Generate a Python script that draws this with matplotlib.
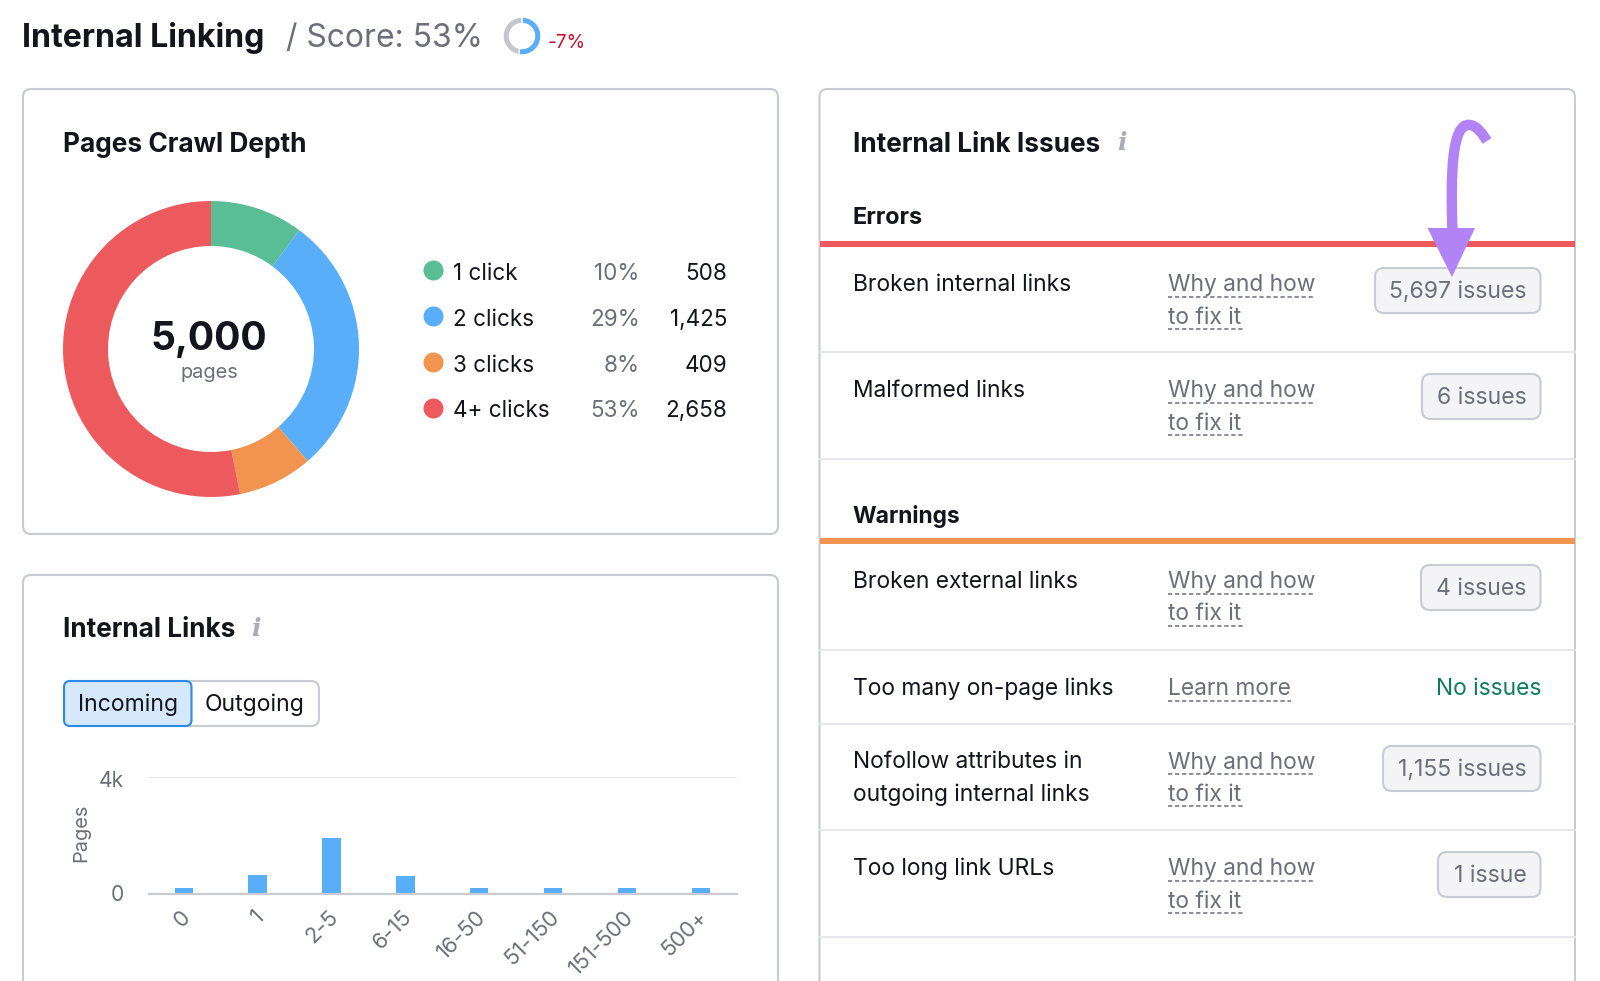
import matplotlib
matplotlib.use("Agg")
import matplotlib.pyplot as plt
from matplotlib.patches import FancyBboxPatch, PathPatch, Polygon, Rectangle
from matplotlib.path import Path
from matplotlib.transforms import ScaledTranslation

plt.rcParams['font.family'] = ['Inter', 'DejaVu Sans']

# chart data
depthLabels = ["1 click", "2 clicks", "3 clicks", "4+ clicks"]
depthPercents = ["10%", "29%", "8%", "53%"]
depthPages = [508, 1425, 409, 2658]
depthTotal = "5,000"
score = 53
scoreChange = "-7%"

linkBuckets = ["0", "1", "2-5", "6-15", "16-50", "51-150", "151-500", "500+"]
linkPages = [190, 640, 1900, 600, 190, 190, 190, 190]

errorNames = ["Broken internal links", "Malformed links"]
errorBadges = ["5,697 issues", "6 issues"]
warningNames = ["Broken external links", "Too many on-page links",
                "Nofollow attributes in\noutgoing internal links", "Too long link URLs"]
warningBadges = ["4 issues", None, "1,155 issues", "1 issue"]

W, H = 1600, 981
INK = "#14151c"
GRAY = "#6c6e79"
BORDER = "#c9cbd3"
LINE = "#e6e7ed"
GREEN = "#59bd96"
BLUE = "#59aef9"
ORANGE = "#f09450"
RED = "#ed5a5e"
PURPLE = "#b283f5"
depthColors = [GREEN, BLUE, ORANGE, RED]


def px(size):
    return size * 0.72


def sub_axes(x0, y0, x1, y1):
    return fig.add_axes([x0 / W, 1 - y1 / H, (x1 - x0) / W, (y1 - y0) / H])


def label(x, y, s, size=22.8, color=INK, ha="left", weight="normal", **kw):
    ui.text(x, y + 2.5, s, fontsize=px(size), color=color, ha=ha, va="center", weight=weight, **kw)


def box(x0, y0, x1, y1, face="white", edge=BORDER, lw=1.5, r=8):
    ui.add_patch(FancyBboxPatch((x0, y0), x1 - x0, y1 - y0,
                                boxstyle=f"round,pad=0,rounding_size={r}",
                                fc=face, ec=edge, lw=lw))


def dashed(x0, x1, y):
    ui.plot([x0, x1], [y, y], color=GRAY, lw=1.1, linestyle=(0, (2.8, 1.8)))


def info(x, y):
    ui.text(x, y, "i", fontsize=px(25), color="#a9abb6", ha="center", va="center",
            style="italic", weight="bold", family="DejaVu Serif")


fig = plt.figure(figsize=(W / 100, H / 100), dpi=100, facecolor="white")
ui = fig.add_axes([0, 0, 1, 1])
ui.set_xlim(0, W)
ui.set_ylim(H, 0)
ui.axis("off")

# header
label(22.5, 35, "Internal Linking", size=32.2, weight="bold")
label(286.5, 36, "/ Score: 53%", size=31.8, color=GRAY)
label(548, 40, scoreChange, size=19, color="#c8102e")

ring = sub_axes(503, 17, 541, 55)
ring.pie([score, 100 - score], colors=[BLUE, "#c4c7cf"], startangle=90, counterclock=False,
         radius=1, wedgeprops=dict(width=0.34, edgecolor="white", linewidth=1.0))
ring.set_xlim(-1, 1)
ring.set_ylim(-1, 1)

# cards
box(23, 89, 778, 534)
box(23, 575, 778, 1010)
box(819.5, 89, 1575, 1010)

# pages crawl depth
label(63, 142, "Pages Crawl Depth", size=26.3, weight="bold")
donut = sub_axes(63, 201, 359, 497)
donut.pie(depthPages, colors=depthColors, startangle=90, counterclock=False, radius=1,
          wedgeprops=dict(width=45 / 148))
donut.set_xlim(-1, 1)
donut.set_ylim(-1, 1)
label(209, 337.5, depthTotal, size=39, ha="center", weight="bold")
label(209, 371, "pages", size=20, ha="center", color=GRAY)

legendY = [271, 317, 363, 408.5]
for i in range(len(depthLabels)):
    ui.scatter([433], [legendY[i] - 1], s=px(20) ** 2, color=depthColors[i], linewidths=0)
    label(453, legendY[i], depthLabels[i], size=22.5)
    label(639.5, legendY[i], depthPercents[i], size=22.5, ha="right", color=GRAY)
    label(727.5, legendY[i], f"{depthPages[i]:,}", size=22.5, ha="right")

# internal links
label(63, 627.5, "Internal Links", size=26.2, weight="bold")
info(256, 629)
box(64, 681, 319, 726, r=8)
box(64, 681, 191.5, 726, face="#d6e8fc", edge="#2b8ae8", r=6)
label(128, 702, "Incoming", size=23, ha="center")
label(254.5, 702, "Outgoing", size=23, ha="center")

bars = sub_axes(149, 777, 737, 894)
bars.bar(range(len(linkBuckets)), linkPages, width=0.25, color=BLUE)
bars.set_xlim(-0.472, 7.49)
bars.set_ylim(0, 4000)
bars.set_yticks([0, 4000], ["0", "4k"])
bars.set_xticks(range(len(linkBuckets)), linkBuckets)
bars.tick_params(axis="x", length=0, labelcolor=GRAY, labelsize=px(22), pad=9)
bars.tick_params(axis="y", length=0, labelcolor=GRAY, labelsize=px(21), pad=18)
shift = ScaledTranslation(-4 / 100, 0, fig.dpi_scale_trans)
for t in bars.get_xticklabels():
    t.set_rotation(45)
    t.set_ha("right")
    t.set_rotation_mode("anchor")
    t.set_transform(t.get_transform() + shift)
yNudge = [1, -2]
for t, n in zip(bars.get_yticklabels(), yNudge):
    t.set_transform(t.get_transform() + ScaledTranslation(0, n / 100, fig.dpi_scale_trans))
for s in ["top", "left", "right"]:
    bars.spines[s].set_visible(False)
bars.spines["bottom"].set_color(BORDER)
bars.spines["bottom"].set_linewidth(1.5)
bars.yaxis.grid(True, color=LINE, lw=1.5)
bars.set_axisbelow(True)
bars.patch.set_alpha(0)
label(81, 830, "Pages", size=20, ha="center", color=GRAY, rotation=90)

# internal link issues
label(853, 142, "Internal Link Issues", size=26.2, weight="bold")
info(1122, 143)
label(852.5, 216, "Errors", size=23.4, weight="bold")
ui.add_patch(Rectangle((820, 241), 755, 6, color=RED, lw=0))
label(852.5, 514, "Warnings", size=22.8, weight="bold")
ui.add_patch(Rectangle((820, 538), 755, 6, color=ORANGE, lw=0))

# row layout: name y, badge top, separator y, badge left
errorRows = [(282.5, 268, 352, 1376), (388.5, 374, 459, 1423)]
warningRows = [(579.5, 565, 650, 1422), (686.5, None, 724, None),
               (760, 746, 830, 1384), (866.5, 852, 937, 1439)]


def issue_row(name, badge, y, top, sep, left):
    for n, line in enumerate(name.split("\n")):
        label(853, y + 32.5 * n, line, size=22.8)
    if badge is None:
        label(1168, y, "Learn more", color=GRAY)
        dashed(1168, 1291, y + 14.5)
        label(1541, y, "No issues", color="#0d7d5c", ha="right")
    else:
        label(1168, y, "Why and how", color=GRAY)
        dashed(1168, 1314, y + 14)
        label(1168, y + 32.5, "to fix it", color=GRAY)
        dashed(1168, 1243, y + 46)
        box(left - 1, top, 1540.5, top + 45, face="#f4f4f6", r=9)
        label(1526.5, top + 21.5, badge, size=23, color=GRAY, ha="right")
    ui.plot([820, 1575], [sep, sep], color=LINE, lw=1.4)


for i in range(len(errorNames)):
    y, top, sep, left = errorRows[i]
    issue_row(errorNames[i], errorBadges[i], y, top, sep, left)
for i in range(len(warningNames)):
    y, top, sep, left = warningRows[i]
    issue_row(warningNames[i], warningBadges[i], y, top, sep, left)

# purple arrow drawn over the red bar
shaft = Path([(1452.5, 232), (1450.5, 175), (1451.5, 122), (1470, 125), (1477, 126), (1482, 133), (1487, 141)],
             [Path.MOVETO, Path.CURVE4, Path.CURVE4, Path.CURVE4, Path.CURVE4, Path.CURVE4, Path.CURVE4])
ui.add_patch(PathPatch(shaft, fc="none", ec=PURPLE, lw=7.5, capstyle="butt", zorder=5))
ui.add_patch(Polygon([(1427.5, 228), (1475, 228), (1452, 277)], color=PURPLE, lw=0, zorder=5))

fig.savefig("out.png", dpi=100)
